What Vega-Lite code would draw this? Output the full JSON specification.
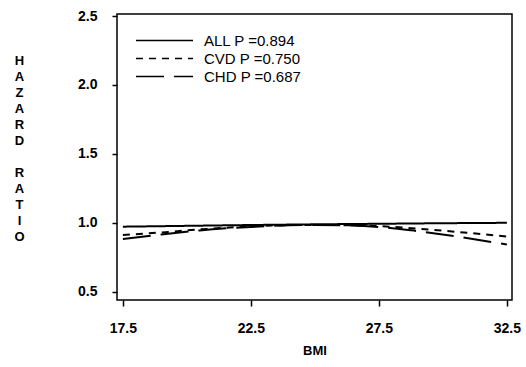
{
  "$schema": "https://vega.github.io/schema/vega-lite/v6.json",
  "width": 395,
  "height": 286,
  "autosize": "none",
  "padding": {"left": 117, "top": 14, "right": 14, "bottom": 67},
  "background": "white",
  "config": {
    "view": {"stroke": "black", "strokeWidth": 1.5},
    "font": "Liberation Sans",
    "axis": {"domain": false, "grid": false, "tickColor": "black", "labelColor": "black", "titleColor": "black", "labelFont": "Liberation Sans", "titleFont": "Liberation Sans"}
  },
  "data": {"values": [
    {"bmi": 17.5, "hr": 0.972, "series": "ALL P =0.894"},
    {"bmi": 20, "hr": 0.978, "series": "ALL P =0.894"},
    {"bmi": 22.5, "hr": 0.984, "series": "ALL P =0.894"},
    {"bmi": 25, "hr": 0.989, "series": "ALL P =0.894"},
    {"bmi": 27.5, "hr": 0.993, "series": "ALL P =0.894"},
    {"bmi": 30, "hr": 0.997, "series": "ALL P =0.894"},
    {"bmi": 32.5, "hr": 1.0, "series": "ALL P =0.894"},
    {"bmi": 17.5, "hr": 0.912, "series": "CVD P =0.750"},
    {"bmi": 19, "hr": 0.93, "series": "CVD P =0.750"},
    {"bmi": 20.5, "hr": 0.952, "series": "CVD P =0.750"},
    {"bmi": 22.5, "hr": 0.974, "series": "CVD P =0.750"},
    {"bmi": 25, "hr": 0.985, "series": "CVD P =0.750"},
    {"bmi": 27.5, "hr": 0.976, "series": "CVD P =0.750"},
    {"bmi": 29, "hr": 0.958, "series": "CVD P =0.750"},
    {"bmi": 30.5, "hr": 0.935, "series": "CVD P =0.750"},
    {"bmi": 32.5, "hr": 0.9, "series": "CVD P =0.750"},
    {"bmi": 17.5, "hr": 0.882, "series": "CHD P =0.687"},
    {"bmi": 19, "hr": 0.915, "series": "CHD P =0.687"},
    {"bmi": 20.5, "hr": 0.945, "series": "CHD P =0.687"},
    {"bmi": 22.5, "hr": 0.97, "series": "CHD P =0.687"},
    {"bmi": 25, "hr": 0.985, "series": "CHD P =0.687"},
    {"bmi": 27.5, "hr": 0.97, "series": "CHD P =0.687"},
    {"bmi": 29, "hr": 0.94, "series": "CHD P =0.687"},
    {"bmi": 30.5, "hr": 0.902, "series": "CHD P =0.687"},
    {"bmi": 32.5, "hr": 0.842, "series": "CHD P =0.687"}
  ]},
  "mark": {"type": "line", "interpolate": "monotone", "color": "black", "strokeWidth": 2, "clip": true},
  "encoding": {
    "x": {
      "field": "bmi", "type": "quantitative",
      "scale": {"domain": [17.27, 32.7], "nice": false, "zero": false},
      "axis": {"values": [17.5, 22.5, 27.5, 32.5], "format": ".1f", "title": "BMI", "tickSize": 6, "tickWidth": 1.5, "labelPadding": 15, "labelFontSize": 14, "labelFontWeight": "bold", "titleFontSize": 13, "titleFontWeight": "bold", "titlePadding": 9}
    },
    "y": {
      "field": "hr", "type": "quantitative",
      "scale": {"domain": [0.44, 2.515], "nice": false, "zero": false},
      "axis": {"values": [0.5, 1.0, 1.5, 2.0, 2.5], "format": ".1f", "tickSize": 5, "tickWidth": 1.5, "labelPadding": 15, "labelFontSize": 14, "labelFontWeight": "bold",
        "title": ["H", "A", "Z", "A", "R", "D", "\u200b", "R", "A", "T", "I", "O"],
        "titleAngle": 0, "titleX": -98, "titleY": 40, "titleAlign": "center", "titleBaseline": "top", "titleLineHeight": 16, "titleFontSize": 13, "titleFontWeight": "bold"}
    },
    "strokeDash": {
      "field": "series", "type": "nominal",
      "scale": {"domain": ["ALL P =0.894", "CVD P =0.750", "CHD P =0.687"], "range": [[1, 0], [7, 6], [28, 10]]},
      "legend": {"title": null, "orient": "none", "legendX": 18, "legendY": 19, "padding": 0, "symbolType": "stroke", "symbolSize": 3249, "symbolStrokeWidth": 1.5, "symbolStrokeColor": "black", "labelFontSize": 15, "labelColor": "black", "labelOffset": 10, "clipHeight": 15, "rowPadding": 2}
    }
  }
}
